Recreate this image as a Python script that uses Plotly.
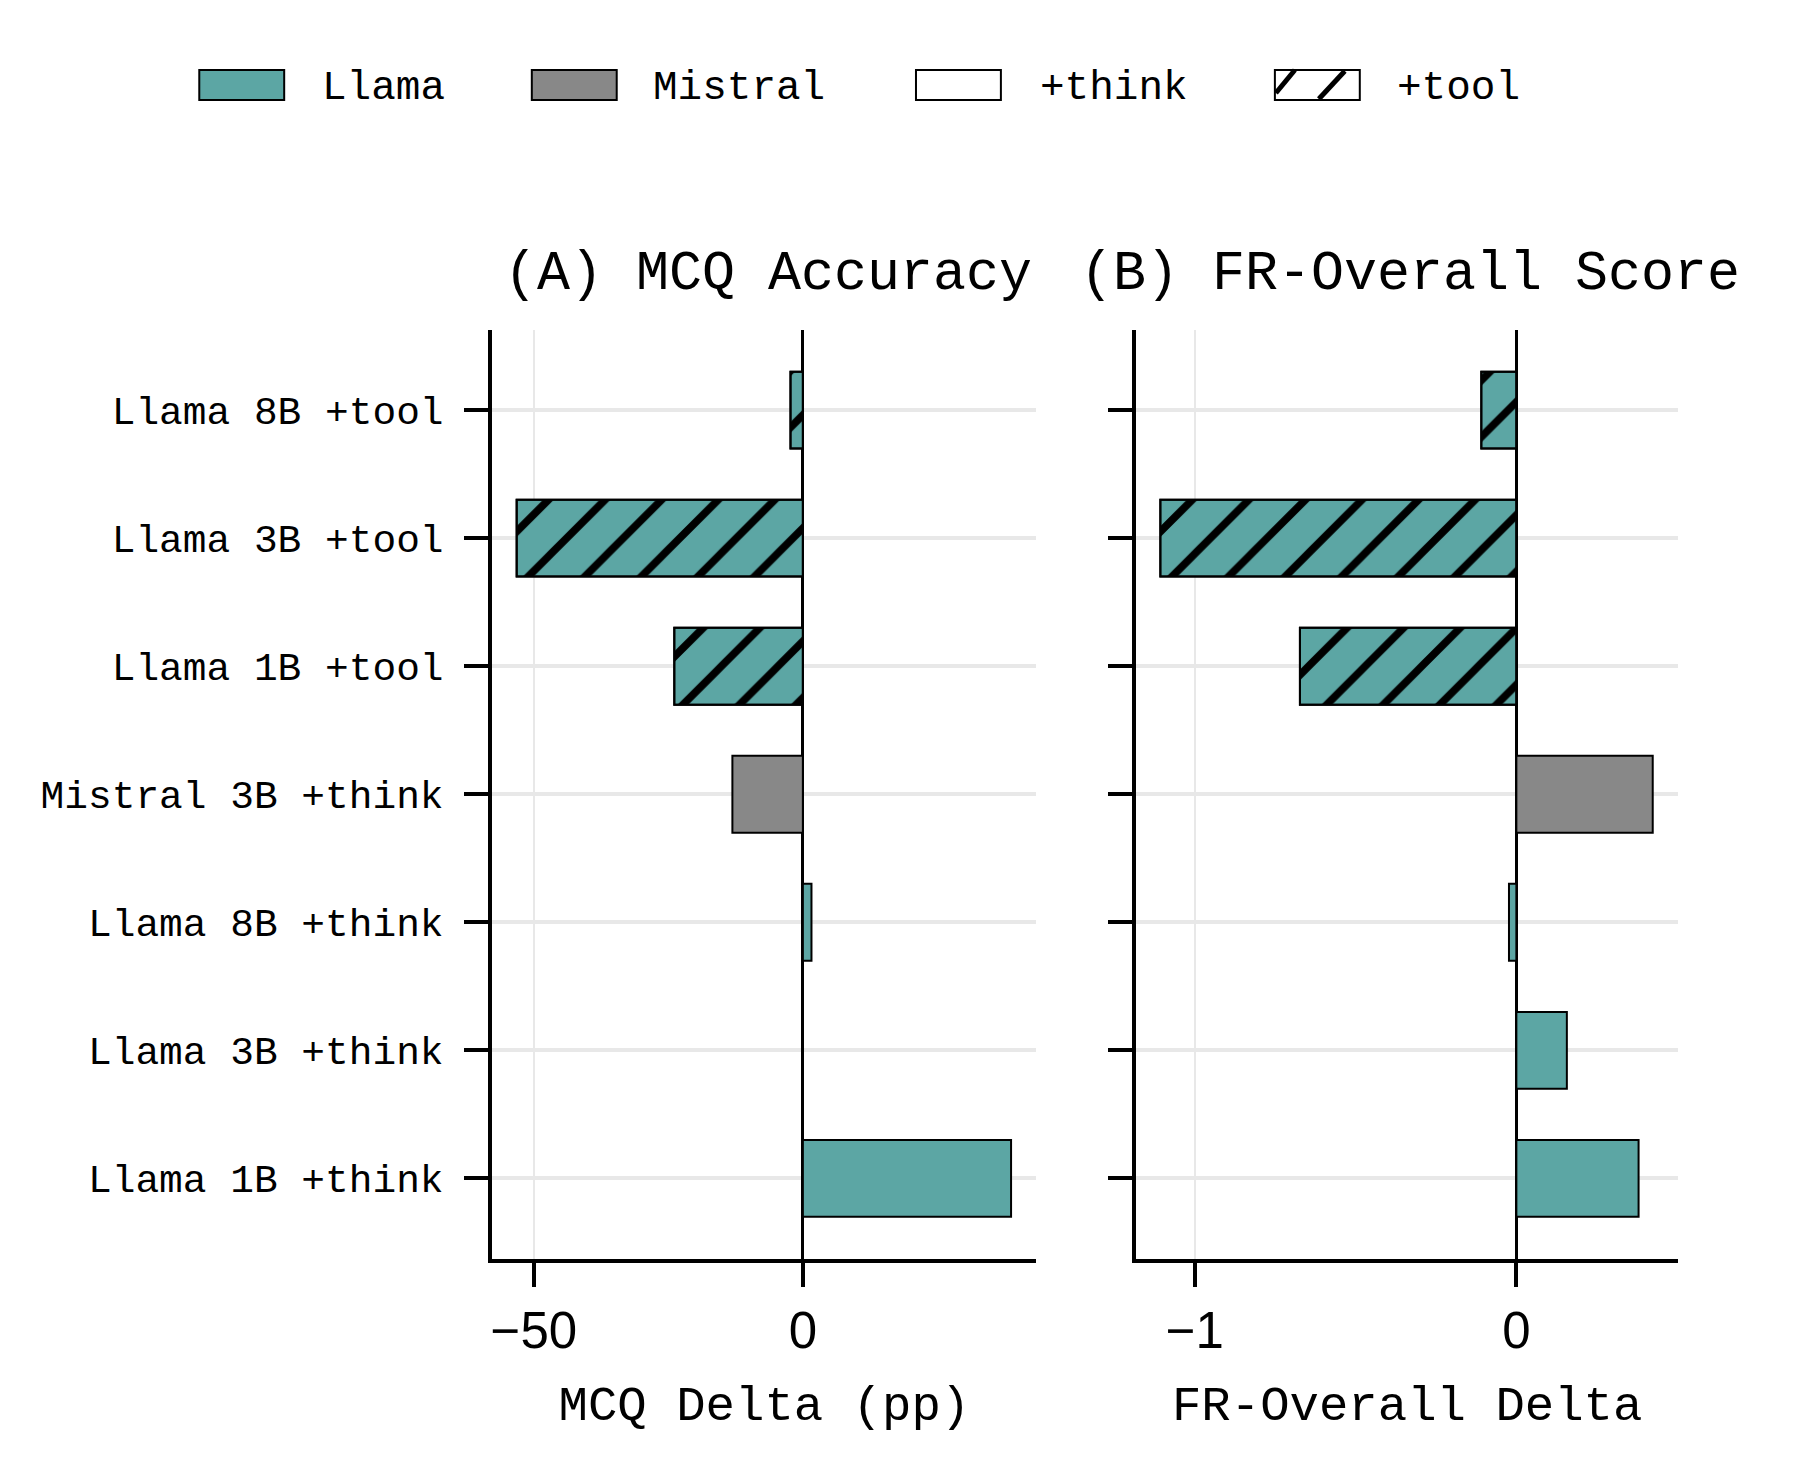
import plotly.graph_objects as go

# ---------------- data ----------------
categories = ["Llama 1B +think", "Llama 3B +think", "Llama 8B +think",
              "Mistral 3B +think", "Llama 1B +tool", "Llama 3B +tool", "Llama 8B +tool"]
families = ["Llama", "Llama", "Llama", "Mistral", "Llama", "Llama", "Llama"]
modes = ["+think", "+think", "+think", "+think", "+tool", "+tool", "+tool"]
mcq_delta = [38.7, 0.0, 1.6, -13.1, -23.9, -53.2, -2.3]
fr_delta = [0.380, 0.157, -0.023, 0.424, -0.673, -1.107, -0.109]
mcq_ticks = [-50, 0]
fr_ticks = [-1, 0]
legend_labels = ["Llama", "Mistral", "+think", "+tool"]

# ---------------- style ----------------
W, H = 1800, 1468
TEAL = "#5CA6A4"
GRAY = "#888888"
MONO = "Courier New, Nimbus Mono PS, FreeMono, Liberation Mono, monospace"
SANS = "Liberation Sans, Arial, sans-serif"
fam_color = {"Llama": TEAL, "Mistral": GRAY}


def px(x):
    return x / W


def py(y):
    return 1 - y / H


colors = [fam_color[f] for f in families]

fig = go.Figure()
for vals, xa, ya in [(mcq_delta, "x", "y"), (fr_delta, "x2", "y2")]:
    # base bars (family colour)
    fig.add_trace(go.Bar(
        x=vals, y=categories, orientation="h", width=0.6,
        xaxis=xa, yaxis=ya, showlegend=False,
        marker=dict(color=colors, line=dict(color="black", width=2)),
    ))
    # hatch overlay for +tool bars
    hatch_vals = [v if m == "+tool" else None for v, m in zip(vals, modes)]
    fig.add_trace(go.Bar(
        x=hatch_vals, y=categories, orientation="h", width=0.6,
        xaxis=xa, yaxis=ya, showlegend=False, hoverinfo="skip",
        marker=dict(color="black", line=dict(color="black", width=2),
                    pattern=dict(shape="/", fgcolor="black", bgcolor="rgba(0,0,0,0)",
                                 size=40, solidity=0.19, fillmode="replace")),
    ))

common_x = dict(showgrid=True, gridcolor="#e8e8e8", gridwidth=2,
                zeroline=True, zerolinecolor="black", zerolinewidth=2.5,
                showline=True, linecolor="black", linewidth=4,
                ticks="outside", ticklen=24, tickwidth=4, tickcolor="black",
                tickfont=dict(family=SANS, size=51, color="black"),
                title_font=dict(family=MONO, size=49, color="black"),
                title_standoff=28)
common_y = dict(type="category", categoryorder="array", categoryarray=categories,
                range=[-0.63, 6.63], showgrid=True, gridcolor="#e8e8e8", gridwidth=4,
                zeroline=False, showline=True, linecolor="black", linewidth=4,
                ticks="outside", ticklen=24, tickwidth=4, tickcolor="black",
                tickfont=dict(family=MONO, size=39.5, color="black"))

fig.update_layout(
    width=W, height=H, margin=dict(l=0, r=0, t=0, b=0),
    paper_bgcolor="white", plot_bgcolor="white", barmode="overlay",
    xaxis=dict(domain=[px(491), px(1035.5)], range=[-57.7, 43.4], tickvals=mcq_ticks,
               anchor="y", title_text="MCQ Delta (pp)", **common_x),
    yaxis=dict(domain=[py(1259), py(329.5)], anchor="x", ticklabelstandoff=13, **common_y),
    xaxis2=dict(domain=[px(1135.5), px(1678)], range=[-1.182, 0.503], tickvals=fr_ticks,
                anchor="y2", title_text="FR-Overall Delta", **common_x),
    yaxis2=dict(domain=[py(1259), py(329.5)], anchor="x2", showticklabels=False, **common_y),
)

# panel titles
for txt, xc in [("(A) MCQ Accuracy", 767), ("(B) FR-Overall Score", 1410)]:
    fig.add_annotation(text=txt, x=px(xc), y=py(275), xref="paper", yref="paper",
                       showarrow=False, xanchor="center", yanchor="middle",
                       font=dict(family=MONO, size=55, color="black"))

# legend (drawn manually to match the large patches)
patch_x = [197.5, 530.4, 915.0, 1274.3]
patch_fill = [TEAL, GRAY, "white", "white"]
text_x = [318, 650, 1037, 1395]
y0, y1 = 70, 100
for lab, x0, fc, tx in zip(legend_labels, patch_x, patch_fill, text_x):
    fig.add_shape(type="rect", xref="paper", yref="paper",
                  x0=px(x0), x1=px(x0 + 85), y0=py(y1), y1=py(y0),
                  fillcolor=fc, line=dict(color="black", width=2))
    fig.add_annotation(text=lab, x=px(tx), y=py(88), xref="paper", yref="paper",
                       showarrow=False, xanchor="left", yanchor="middle",
                       font=dict(family=MONO, size=41, color="black"))
# hatch for +tool legend patch
hx = patch_x[3]
for (ax0, ay0, ax1, ay1) in [(hx + 1, 93, hx + 20, y0), (hx + 44, y1 - 1, hx + 70, y0 + 1)]:
    fig.add_shape(type="line", xref="paper", yref="paper",
                  x0=px(ax0), y0=py(ay0), x1=px(ax1), y1=py(ay1),
                  line=dict(color="black", width=5))

fig.write_html("out.html")
